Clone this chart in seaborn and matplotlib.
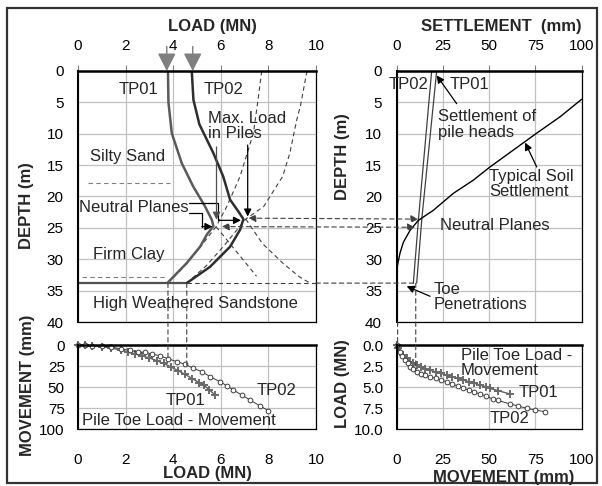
import matplotlib
matplotlib.use("Agg")
import matplotlib.pyplot as plt
import seaborn as sns
from matplotlib.patches import Rectangle, ConnectionPatch
from matplotlib.ticker import FormatStrFormatter

# ---------------- data ----------------
# Load distribution in piles (load MN vs depth m)
tp01_depth = [0, 5, 9.9, 14.7, 18.4, 21.6, 23.7, 24.7, 26.1, 28, 30.6, 33.8]
tp01_load = [3.78, 3.80, 3.94, 4.36, 4.84, 5.34, 5.62, 5.69, 5.41, 5.13, 4.57, 3.75]
tp02_depth = [0, 4.6, 8.5, 13.1, 16.8, 20.5, 22.4, 23.6, 25.3, 28, 31.2, 33.8]
tp02_load = [4.78, 4.85, 5.10, 5.69, 6.10, 6.39, 6.74, 6.95, 6.81, 6.39, 5.55, 4.57]
toe_depth = [33.8, 33.8]
toe_load = [0, 4.57]

# resistance curves (dashed)
res01_depth = [0, 5, 9.9, 16.8, 21.6, 24.8, 28, 31, 33.8]
res01_load = [7.72, 7.55, 7.37, 6.81, 6.25, 5.80, 5.15, 4.50, 3.78]
res02_depth = [0, 5.5, 7.8, 13.1, 16.8, 21.6, 23.6, 28, 31, 33.8]
res02_load = [9.62, 9.35, 9.19, 8.90, 8.60, 7.80, 7.05, 6.10, 5.40, 4.57]
# load curves continued below neutral planes (dashed)
ext01_depth = [24.8, 32.7]
ext01_load = [5.80, 7.50]
ext02_depth = [23.6, 27.5, 30.6, 32.8, 33.8]
ext02_load = [7.05, 7.75, 8.60, 9.30, 9.75]
# soil layer boundaries
layer_depth = [17.9, 32.9]
layer_x0 = [0.43, 0.15]
layer_x1 = [3.87, 3.73]
# applied head loads
head_load = [3.73, 4.82]

# Settlement vs depth
soil_settle = [100, 88.3, 75.7, 50.4, 41.4, 30.6, 19.8, 11.7, 7.2, 3.6, 1.8, 0.4, 0, 0]
soil_depth = [4.5, 7.3, 9.9, 15.3, 17.4, 19.5, 22.2, 23.8, 25.4, 27.3, 29.0, 31.0, 32.5, 40]
pile01_settle = [21.6, 13.6, 10.8]
pile01_depth = [0, 23.5, 33.8]
pile02_settle = [18.9, 11.8, 9.0]
pile02_depth = [0, 23.5, 33.8]

# Pile toe load - movement (bottom left: load vs movement)
bl01_load = [0, 0.3, 0.6, 1.0, 1.4, 1.8, 2.1, 2.4, 2.7, 3.0, 3.3, 3.6, 3.9, 4.2, 4.5, 4.8, 5.1, 5.3, 5.5, 5.76]
bl01_mov = [0, 0.3, 1, 2, 3.5, 6, 8.5, 10.5, 13, 15.5, 18.5, 22, 26, 30.5, 35, 40, 45, 48, 53, 59.5]
bl02_load = [0, 0.3, 0.6, 1.0, 1.4, 1.8, 2.2, 2.5, 2.8, 3.1, 3.45, 3.8, 4.15, 4.5, 4.85, 5.2, 5.55,
             5.97, 6.25, 6.53, 6.88, 7.23, 7.65, 8.0]
bl02_mov = [0, 0.2, 0.6, 1.2, 2.5, 4.5, 6.5, 8.2, 8.8, 10.5, 13, 16.5, 19.8, 23, 27.8, 31.7, 37.7,
            43.7, 48.5, 53.6, 59.5, 65.5, 72.6, 78.2]
# bottom right: movement vs load
br01_mov = [0, 0.9, 2, 3.6, 5.5, 7.2, 9, 10.8, 13, 15.5, 18, 21, 24, 27, 30, 33, 36, 39, 42, 45,
            48, 50.4, 54.9, 61.2]
br01_load = [0, 0.4, 0.8, 1.19, 1.6, 1.98, 2.2, 2.38, 2.6, 2.8, 2.98, 3.2, 3.38, 3.57, 3.77, 3.97,
             4.17, 4.37, 4.56, 4.76, 4.96, 5.16, 5.44, 5.83]
br02_mov = [0, 1.8, 3, 4.5, 6, 7.2, 9, 10.8, 13, 15.5, 18, 21, 24, 27, 30, 33, 36, 39, 42, 45, 48,
            52.2, 55, 61.2, 65.5, 70.3, 75, 80.2]
br02_load = [0, 0.8, 1.3, 1.79, 2.2, 2.58, 2.9, 3.17, 3.4, 3.6, 3.77, 3.97, 4.17, 4.37, 4.63, 4.9,
             5.16, 5.38, 5.6, 5.83, 6.05, 6.47, 6.6, 7.02, 7.25, 7.54, 7.75, 7.94]

load_ticks = [0, 2, 4, 6, 8, 10]
depth_ticks = [0, 5, 10, 15, 20, 25, 30, 35, 40]
mov_ticks = [0, 25, 50, 75, 100]
toeload_ticks = [0, 2.5, 5.0, 7.5, 10.0]

# ---------------- style ----------------
sns.set_theme(style="white")
plt.rcParams['font.family'] = ['Liberation Sans', 'DejaVu Sans']
plt.rcParams['axes.edgecolor'] = 'black'

W, H = 602, 486
fig = plt.figure(figsize=(W / 100, H / 100), dpi=100)
fig.patch.set_facecolor('white')


def box(x0, y0, x1, y1):
    return [x0 / W, 1 - y1 / H, (x1 - x0) / W, (y1 - y0) / H]


ax1 = fig.add_axes(box(78, 71, 316, 322))
ax2 = fig.add_axes(box(78, 345, 316, 429))
ax3 = fig.add_axes(box(396.7, 71, 581.7, 322))
ax4 = fig.add_axes(box(396.7, 345, 581.7, 429))

GRID = '#c0c0c0'
for ax in (ax1, ax2, ax3, ax4):
    ax.set_facecolor('white')
    ax.grid(True, color=GRID, lw=0.9)
    ax.set_axisbelow(True)
    for s in ax.spines.values():
        s.set_color('black')
        s.set_linewidth(0.9)
    ax.spines['top'].set_linewidth(1.8)
    ax.spines['left'].set_linewidth(1.5)
    ax.tick_params(axis='y', direction='inout', length=5, width=0.8, color='#555555',
                   labelsize=11, labelcolor='black', pad=8)

# axis ranges / ticks
ax1.set_xlim(0, 10); ax1.set_ylim(40, 0)
ax2.set_xlim(0, 10); ax2.set_ylim(100, 0)
ax3.set_xlim(0, 100); ax3.set_ylim(40, 0)
ax4.set_xlim(0, 100); ax4.set_ylim(10, 0)
ax1.set_xticks(load_ticks); ax1.set_yticks(depth_ticks)
ax2.set_xticks(load_ticks); ax2.set_yticks(mov_ticks)
ax3.set_xticks(mov_ticks); ax3.set_yticks(depth_ticks)
ax4.set_xticks(mov_ticks); ax4.set_yticks(toeload_ticks)
ax4.yaxis.set_major_formatter(FormatStrFormatter('%.1f'))

for ax in (ax1, ax3):
    ax.xaxis.tick_top()
    ax.tick_params(axis='x', direction='out', length=4, width=0.8, color='#808080',
                   labelsize=11, labelcolor='black', pad=9)
for ax in (ax2, ax4):
    ax.tick_params(axis='x', length=0, labelsize=11, labelcolor='black', pad=17)
    ax.tick_params(axis='y', pad=7)

# ---------------- top-left: load distribution ----------------
dash_kw = dict(color='#404040', lw=0.8, linestyle=(0, (4, 3)))
sns.lineplot(x=res01_load, y=res01_depth, sort=False, estimator=None, ax=ax1, **dash_kw)
sns.lineplot(x=res02_load, y=res02_depth, sort=False, estimator=None, ax=ax1, **dash_kw)
sns.lineplot(x=ext01_load, y=ext01_depth, sort=False, estimator=None, ax=ax1, **dash_kw)
sns.lineplot(x=ext02_load, y=ext02_depth, sort=False, estimator=None, ax=ax1, **dash_kw)
for d, a, b in zip(layer_depth, layer_x0, layer_x1):
    ax1.plot([a, b], [d, d], color='#808080', lw=0.8, linestyle=(0, (4, 3)))

sns.lineplot(x=toe_load, y=toe_depth, sort=False, estimator=None, ax=ax1, color='#505050', lw=1.6)
sns.lineplot(x=tp01_load, y=tp01_depth, sort=False, estimator=None, ax=ax1, color='#5a5a5a', lw=1.8)
sns.lineplot(x=tp02_load, y=tp02_depth, sort=False, estimator=None, ax=ax1, color='#2e2e2e', lw=1.8)
# dashed from toe to the right edge
ax1.plot([4.57, 10], [33.8, 33.8], color='#404040', lw=0.8, linestyle=(0, (4, 3)))

for hl in head_load:
    ax1.annotate('', xy=(hl, 0), xytext=(hl, -3.9), annotation_clip=False,
                 arrowprops=dict(arrowstyle='-|>,head_length=0.55,head_width=0.28',
                                 color='#7f7f7f', lw=1.0, mutation_scale=20,
                                 shrinkA=0, shrinkB=0))

TXT = 12
ax1.text(2.53, 3.0, 'TP01', fontsize=TXT, ha='center', va='center')
ax1.text(6.1, 2.9, 'TP02', fontsize=TXT, ha='center', va='center')
ax1.text(5.45, 8.75, 'Max. Load\nin Piles', fontsize=TXT, ha='left', va='center', linespacing=1.05)
ax1.text(0.5, 13.6, 'Silty Sand', fontsize=TXT, ha='left', va='center')
ax1.text(0.05, 21.7, 'Neutral Planes', fontsize=TXT, ha='left', va='center')
ax1.text(0.64, 29.3, 'Firm Clay', fontsize=TXT, ha='left', va='center')
ax1.text(0.64, 37.0, 'High Weathered Sandstone', fontsize=TXT, ha='left', va='center')

arr = dict(arrowstyle='-|>', color='black', lw=0.9, mutation_scale=11, shrinkA=0, shrinkB=0)
ax1.annotate('', xy=(5.82, 23.7), xytext=(5.82, 12.1), arrowprops=dict(arr, color='#505050'))
ax1.annotate('', xy=(7.13, 23.2), xytext=(7.13, 11.8), arrowprops=arr)
ax1.plot([4.65, 5.9, 5.9], [21.1, 21.1, 23.8], color='black', lw=0.9)
ax1.annotate('', xy=(6.85, 23.8), xytext=(5.9, 23.8), arrowprops=arr)
ax1.plot([4.65, 5.2, 5.2], [22.6, 22.6, 24.8], color='black', lw=0.9)
ax1.annotate('', xy=(5.65, 24.8), xytext=(5.2, 24.8), arrowprops=arr)

# ---------------- top-right: settlement ----------------
sns.lineplot(x=pile01_settle, y=pile01_depth, sort=False, estimator=None, ax=ax3, color='#404040', lw=0.9)
sns.lineplot(x=pile02_settle, y=pile02_depth, sort=False, estimator=None, ax=ax3, color='#404040', lw=0.9)
sns.lineplot(x=soil_settle, y=soil_depth, sort=False, estimator=None, ax=ax3, color='black', lw=1.0)
ax3.get_lines()[-1].set_clip_on(False)

ax3.text(6.3, 2.2, 'TP02', fontsize=TXT, ha='center', va='center')
ax3.text(39.2, 2.2, 'TP01', fontsize=TXT, ha='center', va='center')
ax3.text(22.5, 8.5, 'Settlement of\npile heads', fontsize=TXT, ha='left', va='center', linespacing=1.05)
ax3.text(50, 18.0, 'Typical Soil\nSettlement', fontsize=TXT, ha='left', va='center', linespacing=1.05)
ax3.text(23.4, 24.7, 'Neutral Planes', fontsize=TXT, ha='left', va='center')
ax3.text(19.8, 36.0, 'Toe\nPenetrations', fontsize=TXT, ha='left', va='center', linespacing=1.05)
ax3.annotate('', xy=(21.6, 0.7), xytext=(32.4, 5.2), arrowprops=arr)
ax3.annotate('', xy=(69.4, 11.4), xytext=(75.7, 15.3), arrowprops=arr)
ax3.annotate('', xy=(5.4, 34.3), xytext=(18, 35.9), arrowprops=arr)

# ---------------- bottom panels: toe load - movement ----------------
m01 = dict(color='#5f5f5f', lw=1.0, marker='+', markersize=5.5, markeredgewidth=1.4,
           markeredgecolor='#6a6a6a')
m02 = dict(color='#3c3c3c', lw=0.7, marker='o', markersize=3.4, markerfacecolor='white',
           markeredgecolor='#3c3c3c', markeredgewidth=0.7)
sns.lineplot(x=bl01_load, y=bl01_mov, sort=False, estimator=None, ax=ax2, **m01)
sns.lineplot(x=bl02_load, y=bl02_mov, sort=False, estimator=None, ax=ax2, **m02)
sns.lineplot(x=br01_mov, y=br01_load, sort=False, estimator=None, ax=ax4, **m01)
sns.lineplot(x=br02_mov, y=br02_load, sort=False, estimator=None, ax=ax4, **m02)
for ax in (ax2, ax4):
    for ln in ax.get_lines():
        ln.set_clip_on(False)

ax2.text(4.53, 65.5, 'TP01', fontsize=TXT, ha='center', va='center')
ax2.text(8.35, 54.4, 'TP02', fontsize=TXT, ha='center', va='center')
ax2.text(0.15, 89.3, 'Pile Toe Load - Movement', fontsize=TXT, ha='left', va='center')
ax4.text(34.8, 2.15, 'Pile Toe Load -\nMovement', fontsize=TXT, ha='left', va='center', linespacing=1.05)
ax4.text(65.8, 5.7, 'TP01', fontsize=TXT, ha='left', va='center')
ax4.text(50.4, 8.7, 'TP02', fontsize=TXT, ha='left', va='center')

# ---------------- connecting dashed lines ----------------
def connect(axA, pA, axB, pB, style='-'):
    cp = ConnectionPatch(xyA=pA, coordsA='data', axesA=axA, xyB=pB, coordsB='data', axesB=axB,
                         arrowstyle=style, color='#404040', lw=0.8, linestyle=(0, (4, 3)),
                         mutation_scale=11, shrinkA=0, shrinkB=0, zorder=5)
    fig.add_artist(cp)

connect(ax1, (7.16, 23.45), ax3, (11.7, 23.6), '<|-|>')
connect(ax1, (6.04, 24.8), ax3, (9.9, 24.9), '<|-|>')
connect(ax1, (10, 33.8), ax3, (9.6, 33.8))
connect(ax1, (3.78, 33.8), ax2, (3.78, 18))
connect(ax1, (4.57, 33.8), ax2, (4.57, 26))
connect(ax3, (0.5, 40), ax4, (0.5, 0))
connect(ax3, (10.3, 33.8), ax4, (10.3, 3.0))

# ---------------- axis titles ----------------
LBL = dict(fontsize=12, fontweight='bold', ha='center', va='center')
fig.text(212 / W, 1 - 27 / H, 'LOAD (MN)', **LBL)
fig.text(501 / W, 1 - 27 / H, 'SETTLEMENT  (mm)', **LBL)
fig.text(207 / W, 1 - 473 / H, 'LOAD (MN)', **LBL)
fig.text(504 / W, 1 - 477 / H, 'MOVEMENT (mm)', **LBL)
fig.text(27 / W, 1 - 206 / H, 'DEPTH (m)', rotation=90, **LBL)
fig.text(27.5 / W, 1 - 385 / H, 'MOVEMENT (mm)', rotation=90, **LBL)
fig.text(343 / W, 1 - 157 / H, 'DEPTH (m)', rotation=90, **LBL)
fig.text(343 / W, 1 - 384 / H, 'LOAD (MN)', rotation=90, **LBL)

# outer frame
fig.add_artist(Rectangle((7 / W, 1 - 483 / H), (597 - 7) / W, (483 - 8.5) / H,
                         transform=fig.transFigure, fill=False, lw=1.6, ec='#333333'))

fig.savefig('out.png', dpi=100, facecolor='white')
